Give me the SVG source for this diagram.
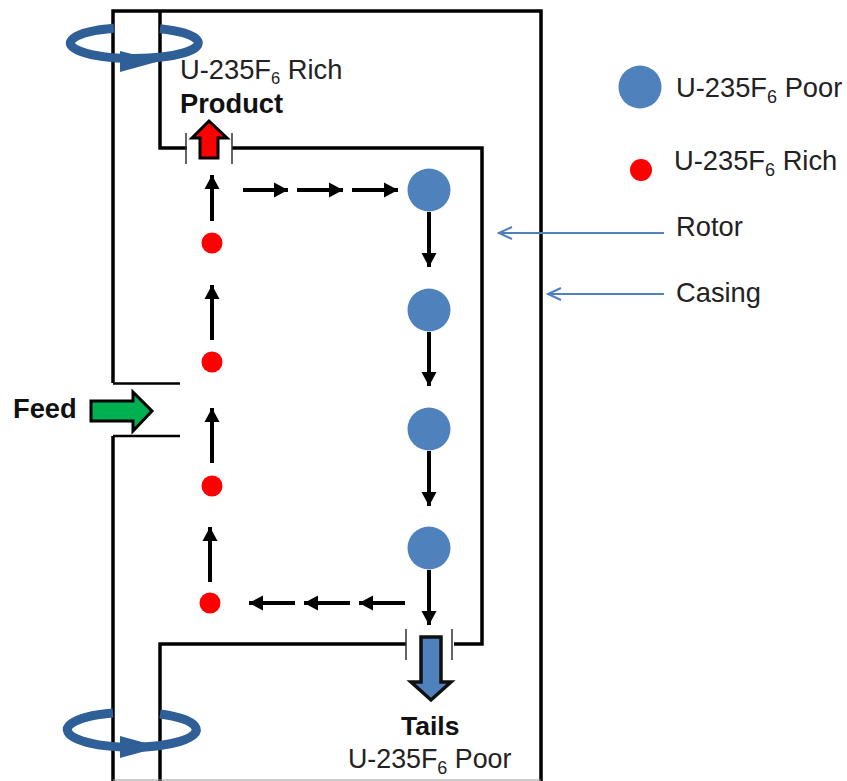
<svg xmlns="http://www.w3.org/2000/svg" width="847" height="781" viewBox="0 0 847 781">
<style>
text{font-family:"Liberation Sans",Arial,sans-serif;font-size:27.300px;fill:#222}
.s{font-size:18px}
.b{font-weight:bold;fill:#111}
.w{fill:none;stroke:#000;stroke-width:3.500}
.t{fill:none;stroke:#333;stroke-width:1.500}
.a{fill:none;stroke:#000;stroke-width:4;marker-end:url(#h)}
.l{fill:none;stroke:#4f81bd;stroke-width:2;marker-end:url(#o)}
.ring{fill:none;stroke:#2f5f97;stroke-width:9}
.tip{fill:#2f5f97}
.pb{fill:#4f81bd}
.pr{fill:#f00}
</style>
<defs>
<marker id="h" markerUnits="userSpaceOnUse" markerWidth="16" markerHeight="16" refX="14" refY="8" orient="auto"><path d="M0 0.500L14 8L0 15.500Z" fill="#000"/></marker>
<marker id="o" markerUnits="userSpaceOnUse" markerWidth="18" markerHeight="14" refX="16" refY="7" orient="auto"><path d="M3 1L16 7L3 13" fill="none" stroke="#4f81bd" stroke-width="2"/></marker>
</defs>
<rect width="847" height="781" fill="#fff"/>
<g id="walls">
<path class="w" d="M113 383V11H541V781"/>
<path class="w" d="M113 436V781"/>
<path d="M113 383.500H180M113 436H180" fill="none" stroke="#000" stroke-width="2.500"/>
<path class="w" d="M160 11V148H187M232 148H482V644H454M406 644H160V781"/>
<path d="M113 780H541" stroke="#999" stroke-width="1"/>
</g>
<g id="rotation-top">
<path class="ring" d="M114 28.300A64 15.500 0 1 0 160 28.800"/>
<path class="tip" d="M120 51L160 61L120 72Z"/>
</g>
<g id="rotation-bottom">
<path class="ring" d="M113 713A64.500 17.500 0 1 0 160 714"/>
<path class="tip" d="M120 736L160 747L120 758Z"/>
</g>
<g id="connectors">
<path class="a" d="M243 190H288"/><path class="a" d="M297 190H343"/><path class="a" d="M352 190H398"/>
<path class="a" d="M429 212V267"/><path class="a" d="M429 332V386"/><path class="a" d="M429 451V506"/><path class="a" d="M429 570V625"/>
<path class="a" d="M405 603H359"/><path class="a" d="M350 603H304"/><path class="a" d="M295 603H249"/>
<path class="a" d="M210 582V527"/><path class="a" d="M212 463V408"/><path class="a" d="M212 340V285"/><path class="a" d="M212 221V175"/>
<path class="l" d="M664 233H499"/><path class="l" d="M664 294H548"/>
</g>
<g id="rich-1"><circle class="pr" cx="212" cy="243" r="10.500"/></g>
<g id="rich-2"><circle class="pr" cx="212" cy="362" r="10.500"/></g>
<g id="rich-3"><circle class="pr" cx="212" cy="486" r="10.500"/></g>
<g id="rich-4"><circle class="pr" cx="210" cy="603" r="10.500"/></g>
<g id="poor-1"><circle class="pb" cx="429" cy="190" r="21.500"/></g>
<g id="poor-2"><circle class="pb" cx="429" cy="310" r="21.500"/></g>
<g id="poor-3"><circle class="pb" cx="429" cy="429" r="21.500"/></g>
<g id="poor-4"><circle class="pb" cx="429" cy="548" r="21.500"/></g>
<g id="product">
<path class="t" d="M186 133V164M232 133V164"/>
<path d="M200 158V138H192L209 121L227 138H218V158Z" fill="#f00" stroke="#000" stroke-width="3"/>
<text class="b" x="180" y="112.500">Product</text>
<text x="180" y="79">U-235F<tspan dy="4.500" style="font-size:16.500px">6</tspan><tspan dy="-4.500"> Rich</tspan></text>
</g>
<g id="tails">
<path class="t" d="M406 629V660M452 629V660"/>
<path d="M421 637H441V682H451L431 700L411 682H421Z" fill="#4f81bd" stroke="#111" stroke-width="3.500"/>
<text class="b" x="401" y="735" style="font-size:26.500px">Tails</text>
<text x="348" y="768" style="font-size:26.800px">U-235F<tspan dy="6" class="s">6</tspan><tspan dy="-6"> Poor</tspan></text>
</g>
<g id="feed">
<path d="M91 401H133V392L152 411L133 431V421H91Z" fill="#00b050" stroke="#000" stroke-width="3"/>
<text class="b" x="13" y="418">Feed</text>
</g>
<g id="legend-poor">
<circle class="pb" cx="640" cy="87" r="21.500"/>
<text x="676" y="97">U-235F<tspan dy="6" class="s">6</tspan><tspan dy="-6"> Poor</tspan></text>
</g>
<g id="legend-rich">
<circle class="pr" cx="641" cy="170" r="11"/>
<text x="674" y="170">U-235F<tspan dy="6" class="s">6</tspan><tspan dy="-6"> Rich</tspan></text>
</g>
<g id="rotor-label"><text x="676" y="236">Rotor</text></g>
<g id="casing-label"><text x="676" y="302">Casing</text></g>
</svg>
